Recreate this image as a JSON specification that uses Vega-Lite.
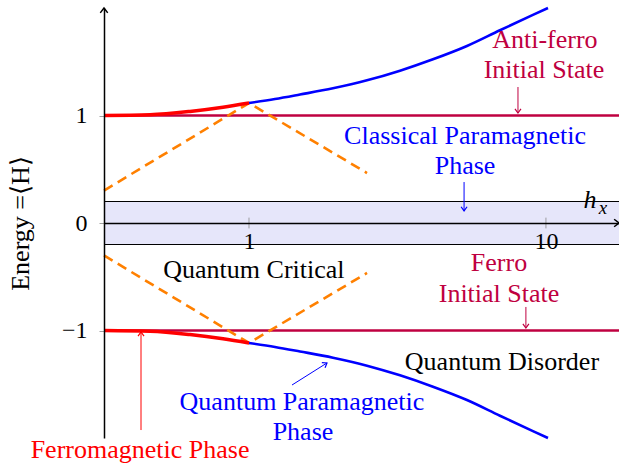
{
  "$schema": "https://vega.github.io/schema/vega-lite/v6.json",
  "width": 515,
  "height": 430,
  "autosize": {"type": "none"},
  "padding": {"left": 104, "top": 8, "right": 0, "bottom": 26},
  "background": "white",
  "config": {
    "view": {"stroke": null},
    "font": "Liberation Serif",
    "axis": {"grid": false, "zindex": 1, "domainColor": "black", "domainWidth": 1.5, "labelColor": "black", "labelFont": "Liberation Serif", "labelFontSize": 24, "labelFlush": false, "labelOverlap": false}
  },
  "datasets": {
    "band": [{"lo": -0.2, "hi": 0.2}],
    "levels": [
      {"E": 1, "kind": "state"},
      {"E": -1, "kind": "state"},
      {"E": 0.2, "kind": "edge"},
      {"E": -0.2, "kind": "edge"}
    ],
    "curves": [
      {"seg": "upper_ferro", "h": 0.3249, "E": 1.0},
      {"seg": "upper_ferro", "h": 0.4642, "E": 1.007},
      {"seg": "upper_ferro", "h": 0.6329, "E": 1.038},
      {"seg": "upper_ferro", "h": 0.8176, "E": 1.077},
      {"seg": "upper_ferro", "h": 1.0, "E": 1.116},
      {"seg": "lower_ferro", "h": 0.3249, "E": -1.0},
      {"seg": "lower_ferro", "h": 0.4642, "E": -1.007},
      {"seg": "lower_ferro", "h": 0.6329, "E": -1.038},
      {"seg": "lower_ferro", "h": 0.8176, "E": -1.077},
      {"seg": "lower_ferro", "h": 1.0, "E": -1.116},
      {"seg": "upper_para", "h": 1.0, "E": 1.116},
      {"seg": "upper_para", "h": 1.223, "E": 1.153},
      {"seg": "upper_para", "h": 1.485, "E": 1.195},
      {"seg": "upper_para", "h": 1.918, "E": 1.253},
      {"seg": "upper_para", "h": 2.497, "E": 1.327},
      {"seg": "upper_para", "h": 3.225, "E": 1.417},
      {"seg": "upper_para", "h": 4.164, "E": 1.523},
      {"seg": "upper_para", "h": 5.42, "E": 1.647},
      {"seg": "upper_para", "h": 7.0, "E": 1.793},
      {"seg": "upper_para", "h": 9.04, "E": 1.936},
      {"seg": "upper_para", "h": 10.16, "E": 2.0},
      {"seg": "lower_para", "h": 1.0, "E": -1.116},
      {"seg": "lower_para", "h": 1.223, "E": -1.153},
      {"seg": "lower_para", "h": 1.485, "E": -1.195},
      {"seg": "lower_para", "h": 1.918, "E": -1.253},
      {"seg": "lower_para", "h": 2.497, "E": -1.327},
      {"seg": "lower_para", "h": 3.225, "E": -1.417},
      {"seg": "lower_para", "h": 4.164, "E": -1.523},
      {"seg": "lower_para", "h": 5.42, "E": -1.647},
      {"seg": "lower_para", "h": 7.0, "E": -1.793},
      {"seg": "lower_para", "h": 9.04, "E": -1.936},
      {"seg": "lower_para", "h": 10.16, "E": -2.0},
      {"seg": "crit_upper", "h": 0.3249, "E": 0.302},
      {"seg": "crit_upper", "h": 1.0, "E": 1.116},
      {"seg": "crit_upper", "h": 2.497, "E": 0.465},
      {"seg": "crit_lower", "h": 0.3249, "E": -0.302},
      {"seg": "crit_lower", "h": 1.0, "E": -1.116},
      {"seg": "crit_lower", "h": 2.497, "E": -0.465}
    ],
    "ticks": [{"h": 1}, {"h": 10}],
    "arrows": [
      {"h1": 8.05, "E1": 1.265, "h2": 8.05, "E2": 1.023, "kind": "state", "dir": "down"},
      {"h1": 5.3, "E1": 0.381, "h2": 5.3, "E2": 0.112, "kind": "classical", "dir": "down"},
      {"h1": 8.56, "E1": -0.781, "h2": 8.56, "E2": -0.977, "kind": "state", "dir": "down"},
      {"h1": 1.396, "E1": -1.507, "h2": 1.831, "E2": -1.302, "kind": "quantum", "dir": "diag"},
      {"h1": 0.4329, "E1": -1.926, "h2": 0.4329, "E2": -1.014, "kind": "ferro", "dir": "up"}
    ],
    "labels": [
      {"h": 9.92, "E": 1.702, "label": "Anti-ferro", "kind": "state"},
      {"h": 9.85, "E": 1.423, "label": "Initial State", "kind": "state"},
      {"h": 5.34, "E": 0.809, "label": "Classical Paramagnetic", "kind": "classical"},
      {"h": 5.34, "E": 0.53, "label": "Phase", "kind": "classical"},
      {"h": 1.039, "E": -0.44, "label": "Quantum Critical", "kind": "regime"},
      {"h": 6.95, "E": -0.372, "label": "Ferro", "kind": "state"},
      {"h": 6.95, "E": -0.66, "label": "Initial State", "kind": "state"},
      {"h": 7.11, "E": -1.293, "label": "Quantum Disorder", "kind": "regime"},
      {"h": 1.508, "E": -1.665, "label": "Quantum Paramagnetic", "kind": "quantum"},
      {"h": 1.52, "E": -1.944, "label": "Phase", "kind": "quantum"},
      {"h": 0.4296, "E": -2.112, "label": "Ferromagnetic Phase", "kind": "ferro"}
    ],
    "axisheads": [
      {"h": 0.3249, "E": 2.0, "dir": "up"},
      {"h": 17.62, "E": 0.0, "dir": "right"}
    ]
  },
  "layer": [
    {
      "data": {"name": "band"},
      "mark": {"type": "rect", "fill": "#E6E6FA"},
      "encoding": {
        "y": {
          "field": "hi", "type": "quantitative",
          "scale": {"domain": [-2, 2], "nice": false, "zero": false},
          "title": "Energy =⟨H⟩",
          "axis": {
            "values": [-1, 0, 1], "format": "d",
            "titleFont": "Liberation Serif", "titleFontSize": 26, "titleFontWeight": "normal", "titleColor": "black",
            "titleAngle": -90, "titleX": -84, "titleY": 215, "titleAlign": "center", "titleBaseline": "middle",
            "labelPadding": 12, "zindex": 1, "domain": true,
            "tickSize": 5, "tickColor": "#888888", "tickWidth": 0.8
          }
        },
        "y2": {"field": "lo"}
      }
    },
    {
      "data": {"name": "levels"},
      "transform": [{"filter": "datum.kind == 'edge'"}],
      "mark": {"type": "rule", "color": "black", "strokeWidth": 1},
      "encoding": {"y": {"field": "E", "type": "quantitative", "title": "Energy =⟨H⟩"}}
    },
    {
      "data": {"name": "levels"},
      "transform": [{"filter": "datum.kind == 'state'"}],
      "mark": {"type": "rule", "color": "#BF0040", "strokeWidth": 2.5},
      "encoding": {"y": {"field": "E", "type": "quantitative", "title": "Energy =⟨H⟩"}}
    },
    {
      "data": {"name": "curves"},
      "transform": [{"filter": "datum.seg == 'crit_upper' || datum.seg == 'crit_lower'"}],
      "mark": {"type": "line", "color": "#FF8000", "strokeWidth": 2.6, "strokeDash": [10, 6]},
      "encoding": {
        "x": {
          "field": "h", "type": "quantitative", "title": null,
          "scale": {"type": "log", "domain": [0.3249, 17.62], "nice": false},
          "axis": {
            "orient": "bottom", "offset": -215, "values": [1, 10], "format": "d",
            "labelPadding": 6, "ticks": false, "tickSize": 0, "zindex": 1, "domain": true,
            "domainColor": "black", "domainWidth": 1.6
          }
        },
        "y": {"field": "E", "type": "quantitative", "title": "Energy =⟨H⟩"},
        "detail": {"field": "seg"}
      }
    },
    {
      "data": {"name": "curves"},
      "transform": [{"filter": "datum.seg == 'upper_para' || datum.seg == 'lower_para'"}],
      "mark": {"type": "line", "color": "#0000FF", "strokeWidth": 2.6, "interpolate": "monotone"},
      "encoding": {
        "x": {"field": "h", "type": "quantitative", "title": null},
        "y": {"field": "E", "type": "quantitative", "title": "Energy =⟨H⟩"},
        "detail": {"field": "seg"}
      }
    },
    {
      "data": {"name": "curves"},
      "transform": [{"filter": "datum.seg == 'upper_ferro' || datum.seg == 'lower_ferro'"}],
      "mark": {"type": "line", "color": "#FF0000", "strokeWidth": 3.5, "interpolate": "monotone"},
      "encoding": {
        "x": {"field": "h", "type": "quantitative", "title": null},
        "y": {"field": "E", "type": "quantitative", "title": "Energy =⟨H⟩"},
        "detail": {"field": "seg"}
      }
    },
    {
      "data": {"name": "ticks"},
      "mark": {"type": "rule", "color": "#888888", "strokeWidth": 0.8},
      "encoding": {
        "x": {"field": "h", "type": "quantitative", "title": null},
        "y": {"datum": -0.05, "type": "quantitative", "title": "Energy =⟨H⟩"},
        "y2": {"datum": 0.05}
      }
    },
    {
      "data": {"name": "arrows"},
      "mark": {"type": "rule", "strokeWidth": 1},
      "encoding": {
        "x": {"field": "h1", "type": "quantitative", "title": null},
        "y": {"field": "E1", "type": "quantitative", "title": "Energy =⟨H⟩"},
        "x2": {"field": "h2"},
        "y2": {"field": "E2"},
        "color": {
          "field": "kind", "type": "nominal", "legend": null,
          "scale": {"domain": ["state", "classical", "quantum", "ferro", "regime"], "range": ["#BF0040", "#0000FF", "#0000FF", "#FF0000", "#000000"]}
        }
      }
    },
    {
      "data": {"name": "arrows"},
      "transform": [{"filter": "datum.dir == 'down'"}],
      "mark": {"type": "point", "shape": "M -1 -1.4 L 0 0 L 1 -1.4", "filled": false, "size": 36, "strokeWidth": 1.2, "angle": 0, "opacity": 1},
      "encoding": {
        "x": {"field": "h2", "type": "quantitative", "title": null},
        "y": {"field": "E2", "type": "quantitative", "title": "Energy =⟨H⟩"},
        "color": {"field": "kind", "type": "nominal", "legend": null}
      }
    },
    {
      "data": {"name": "arrows"},
      "transform": [{"filter": "datum.dir == 'up'"}],
      "mark": {"type": "point", "shape": "M -1 -1.4 L 0 0 L 1 -1.4", "filled": false, "size": 36, "strokeWidth": 1.2, "angle": 180, "opacity": 1},
      "encoding": {
        "x": {"field": "h2", "type": "quantitative", "title": null},
        "y": {"field": "E2", "type": "quantitative", "title": "Energy =⟨H⟩"},
        "color": {"field": "kind", "type": "nominal", "legend": null}
      }
    },
    {
      "data": {"name": "arrows"},
      "transform": [{"filter": "datum.dir == 'diag'"}],
      "mark": {"type": "point", "shape": "M -1 -1.4 L 0 0 L 1 -1.4", "filled": false, "size": 36, "strokeWidth": 1.2, "angle": 237.8, "opacity": 1},
      "encoding": {
        "x": {"field": "h2", "type": "quantitative", "title": null},
        "y": {"field": "E2", "type": "quantitative", "title": "Energy =⟨H⟩"},
        "color": {"field": "kind", "type": "nominal", "legend": null}
      }
    },
    {
      "data": {"name": "labels"},
      "mark": {"type": "text", "font": "Liberation Serif", "fontSize": 26, "align": "center", "baseline": "middle"},
      "encoding": {
        "x": {"field": "h", "type": "quantitative", "title": null},
        "y": {"field": "E", "type": "quantitative", "title": "Energy =⟨H⟩"},
        "text": {"field": "label"},
        "color": {"field": "kind", "type": "nominal", "legend": null}
      }
    },
    {
      "data": {"values": [{"h": 14.07, "E": 0.214, "t": "h"}]},
      "mark": {"type": "text", "font": "Liberation Serif", "fontSize": 26, "fontStyle": "italic", "align": "center", "baseline": "middle", "color": "black"},
      "encoding": {
        "x": {"field": "h", "type": "quantitative", "title": null},
        "y": {"field": "E", "type": "quantitative", "title": "Energy =⟨H⟩"},
        "text": {"field": "t"}
      }
    },
    {
      "data": {"values": [{"h": 15.56, "E": 0.14, "t": "x"}]},
      "mark": {"type": "text", "font": "Liberation Serif", "fontSize": 19, "fontStyle": "italic", "align": "center", "baseline": "middle", "color": "black"},
      "encoding": {
        "x": {"field": "h", "type": "quantitative", "title": null},
        "y": {"field": "E", "type": "quantitative", "title": "Energy =⟨H⟩"},
        "text": {"field": "t"}
      }
    },
    {
      "data": {"name": "axisheads"},
      "transform": [{"filter": "datum.dir == 'up'"}],
      "mark": {"type": "point", "shape": "M -1 -1.3 L 0 0 L 1 -1.3", "filled": false, "size": 56, "strokeWidth": 1.5, "color": "black", "opacity": 1, "angle": 180},
      "encoding": {
        "x": {"field": "h", "type": "quantitative", "title": null},
        "y": {"field": "E", "type": "quantitative", "title": "Energy =⟨H⟩"}
      }
    },
    {
      "data": {"name": "axisheads"},
      "transform": [{"filter": "datum.dir == 'right'"}],
      "mark": {"type": "point", "shape": "M -1 -1.3 L 0 0 L 1 -1.3", "filled": false, "size": 56, "strokeWidth": 1.5, "color": "black", "opacity": 1, "angle": 270},
      "encoding": {
        "x": {"field": "h", "type": "quantitative", "title": null},
        "y": {"field": "E", "type": "quantitative", "title": "Energy =⟨H⟩"}
      }
    }
  ]
}
